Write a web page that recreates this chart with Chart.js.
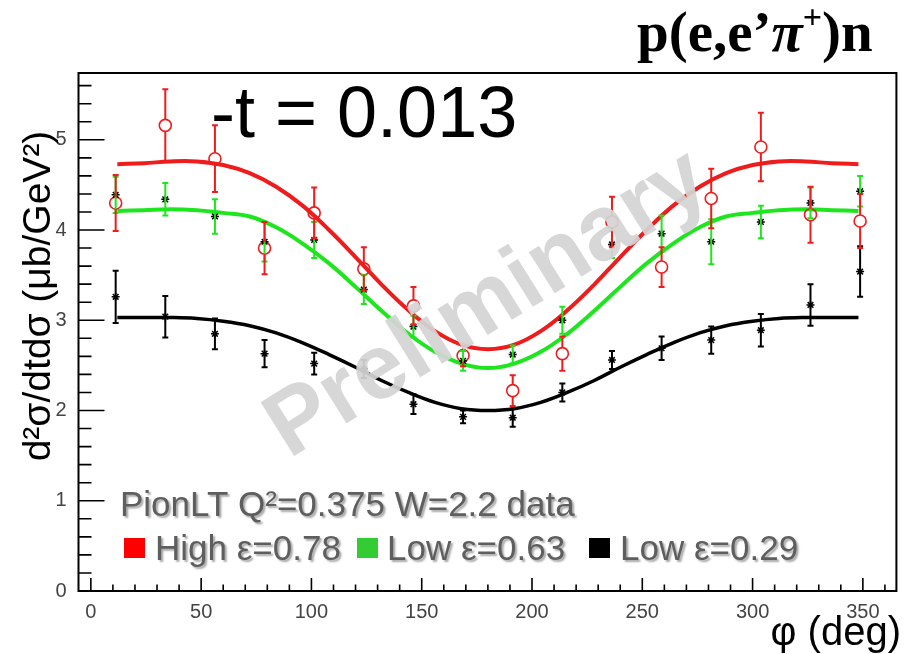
<!DOCTYPE html>
<html>
<head>
<meta charset="utf-8">
<script src="https://cdn.jsdelivr.net/npm/chart.js@4.4.1/dist/chart.umd.min.js"></script>
<style>
  html, body { margin: 0; padding: 0; background: #fff; }
  #wrap { width: 904px; height: 654px; }
</style>
</head>
<body>
<div id="wrap"><canvas id="chart" width="904" height="654"></canvas></div>
<script>
"use strict";

// phi bin centres (deg)
const phiBins = [11.25, 33.75, 56.25, 78.75, 101.25, 123.75, 146.25, 168.75,
  191.25, 213.75, 236.25, 258.75, 281.25, 303.75, 326.25, 348.75];

// High eps = 0.78 (red circles)
const highVals = [4.30, 5.16, 4.79, 3.80, 4.19, 3.57, 3.16, 2.61, 2.22, 2.63, 4.09, 3.59, 4.35, 4.92, 4.17, 4.10];
const highErrs = [0.31, 0.40, 0.37, 0.29, 0.28, 0.24, 0.21, 0.12, 0.17, 0.19, 0.28, 0.22, 0.33, 0.38, 0.31, 0.30];

// Low eps = 0.63 (green)
const midVals = [4.39, 4.34, 4.15, 3.87, 3.89, 3.34, 2.93, 2.55, 2.62, 3.00, 3.84, 3.96, 3.87, 4.09, 4.30, 4.43];
const midErrs = [0.20, 0.18, 0.19, 0.22, 0.20, 0.16, 0.12, 0.11, 0.10, 0.15, 0.15, 0.20, 0.25, 0.18, 0.17, 0.17];

// Low eps = 0.29 (black)
const lowVals = [3.26, 3.04, 2.85, 2.63, 2.52, 2.46, 2.07, 1.93, 1.92, 2.20, 2.56, 2.69, 2.78, 2.89, 3.17, 3.54];
const lowErrs = [0.29, 0.23, 0.17, 0.15, 0.12, 0.10, 0.11, 0.07, 0.10, 0.10, 0.10, 0.13, 0.15, 0.18, 0.23, 0.28];

// fit curves
const fitPhi = [12, 24, 36, 48, 60, 72, 84, 96, 108, 120, 132, 144, 156, 168, 180,
  192, 204, 216, 228, 240, 252, 264, 276, 288, 300, 312, 324, 336, 348];
const highFit = [4.73, 4.74, 4.76, 4.76, 4.72, 4.63, 4.48, 4.27, 4.00, 3.70, 3.39, 3.11, 2.88, 2.73, 2.68,
  2.73, 2.88, 3.11, 3.39, 3.70, 4.00, 4.27, 4.48, 4.63, 4.72, 4.76, 4.76, 4.74, 4.73];
const midFit = [4.21, 4.22, 4.23, 4.22, 4.19, 4.15, 4.03, 3.85, 3.63, 3.37, 3.10, 2.85, 2.65, 2.52, 2.47,
  2.52, 2.65, 2.85, 3.10, 3.37, 3.63, 3.85, 4.03, 4.15, 4.19, 4.22, 4.23, 4.22, 4.21];
const lowFit = [3.03, 3.03, 3.03, 3.02, 2.99, 2.94, 2.86, 2.75, 2.62, 2.48, 2.33, 2.20, 2.09, 2.02, 2.00,
  2.02, 2.09, 2.20, 2.33, 2.48, 2.62, 2.75, 2.86, 2.94, 2.99, 3.02, 3.03, 3.03, 3.03];

// axis ticks
const xTicks = [0, 50, 100, 150, 200, 250, 300, 350];
const yTicks = [0, 1, 2, 3, 4, 5];
const xMinorStep = 10;
const yMinorStep = 0.2;

const RED = "#ee1c1c";
const GREEN = "#1ee61e";
const BLACK = "#000000";
const SANS = "'Liberation Sans', Arial, sans-serif";

const toPoints = (xs, ys) => xs.map((x, i) => ({ x: x, y: ys[i] }));

const drawErrorBars = (chart, vals, errs, color, gap) => {
  const ctx = chart.ctx;
  const xs = chart.scales.x;
  const ys = chart.scales.y;
  ctx.save();
  ctx.strokeStyle = color;
  ctx.lineWidth = 2;
  phiBins.forEach((phi, i) => {
    const px = xs.getPixelForValue(phi);
    const py = ys.getPixelForValue(vals[i]);
    const top = ys.getPixelForValue(vals[i] + errs[i]);
    const bot = ys.getPixelForValue(vals[i] - errs[i]);
    ctx.beginPath();
    ctx.moveTo(px, top);
    ctx.lineTo(px, py - gap);
    ctx.moveTo(px, py + gap);
    ctx.lineTo(px, bot);
    ctx.moveTo(px - 3, top);
    ctx.lineTo(px + 3, top);
    ctx.moveTo(px - 3, bot);
    ctx.lineTo(px + 3, bot);
    ctx.stroke();
  });
  ctx.restore();
};

const rootPlugin = {
  id: "rootStyle",
  beforeDraw(chart) {
    const ctx = chart.ctx;
    ctx.save();
    ctx.fillStyle = "#fff";
    ctx.fillRect(0, 0, chart.width, chart.height);
    ctx.restore();
  },
  afterDatasetsDraw(chart) {
    drawErrorBars(chart, lowVals, lowErrs, BLACK, 0);
    drawErrorBars(chart, midVals, midErrs, GREEN, 0);
    drawErrorBars(chart, highVals, highErrs, RED, 6);

    // watermark
    const ctx = chart.ctx;
    ctx.save();
    ctx.translate(488, 305);
    ctx.rotate(-32 * Math.PI / 180);
    ctx.font = "bold 92px " + SANS;
    ctx.fillStyle = "rgba(212,212,212,0.93)";
    ctx.textAlign = "center";
    ctx.textBaseline = "middle";
    ctx.fillText("Preliminary", 0, 0);
    ctx.restore();
  },
  afterDraw(chart) {
    const ctx = chart.ctx;
    const a = chart.chartArea;
    const xs = chart.scales.x;
    const ys = chart.scales.y;

    // frame
    ctx.save();
    ctx.strokeStyle = "#000";
    ctx.lineWidth = 2;
    ctx.strokeRect(a.left, a.top, a.right - a.left, a.bottom - a.top);

    // inward ticks
    ctx.lineWidth = 1.6;
    ctx.beginPath();
    for (let v = 0; v <= 360.001; v += xMinorStep) {
      const px = xs.getPixelForValue(v);
      const len = xTicks.includes(Math.round(v)) ? 13 : 6.5;
      ctx.moveTo(px, a.bottom);
      ctx.lineTo(px, a.bottom - len);
    }
    for (let v = 0; v <= 5.7; v += yMinorStep) {
      const py = ys.getPixelForValue(v);
      const major = Math.abs(v - Math.round(v)) < 0.01;
      ctx.moveTo(a.left, py);
      ctx.lineTo(a.left + (major ? 26 : 13), py);
    }
    ctx.stroke();
    ctx.restore();

    // texts
    ctx.save();
    ctx.fillStyle = "#000";
    ctx.textBaseline = "alphabetic";

    ctx.font = "72px " + SANS;
    ctx.fillText("-t = 0.013", 211, 137);

    // axis titles
    ctx.font = "40px " + SANS;
    ctx.textAlign = "right";
    ctx.fillText("φ (deg)", 901, 645);

    ctx.save();
    ctx.translate(50, 296);
    ctx.rotate(-Math.PI / 2);
    ctx.textAlign = "center";
    ctx.font = "39px " + SANS;
    ctx.fillText("d²σ/dtdσ (μb/GeV²)", 0, 0);
    ctx.restore();

    // reaction label
    ctx.textAlign = "left";
    const serif = "'Liberation Serif', 'Times New Roman', serif";
    let x = 637;
    const base = 51;
    ctx.font = "bold 57px " + serif;
    ctx.fillText("p(e,e’", x, base);
    x += ctx.measureText("p(e,e’").width;
    ctx.font = "italic bold 57px " + serif;
    ctx.fillText("π", x, base);
    x += ctx.measureText("π").width;
    ctx.font = "bold 34px " + serif;
    ctx.fillText("+", x, base - 23);
    x += ctx.measureText("+").width;
    ctx.font = "bold 57px " + serif;
    ctx.fillText(")n", x, base);

    // in-plot legend
    ctx.shadowColor = "rgba(0,0,0,0.35)";
    ctx.shadowOffsetX = 2;
    ctx.shadowOffsetY = 2;
    ctx.shadowBlur = 2;
    ctx.fillStyle = "#5e5e5e";
    ctx.font = "35px " + SANS;
    ctx.fillText("PionLT Q²=0.375 W=2.2 data", 120, 516);

    const items = [
      { color: "#ff0000", label: "High ε=0.78", box: 124, text: 155 },
      { color: "#33cc33", label: "Low ε=0.63", box: 357, text: 387 },
      { color: "#000000", label: "Low ε=0.29", box: 589, text: 620 }
    ];
    items.forEach((it) => {
      ctx.shadowColor = "rgba(0,0,0,0)";
      ctx.fillStyle = it.color;
      ctx.fillRect(it.box, 538, 21, 20);
      ctx.shadowColor = "rgba(0,0,0,0.35)";
      ctx.fillStyle = "#5e5e5e";
      ctx.fillText(it.label, it.text, 560);
    });
    ctx.restore();
  }
};

const fitLine = (data, color, width) => ({
  type: "line",
  data: toPoints(fitPhi, data),
  borderColor: color,
  borderWidth: width,
  pointRadius: 0,
  tension: 0.4,
  fill: false,
  order: 3
});

new Chart(document.getElementById("chart"), {
  type: "scatter",
  data: {
    datasets: [
      fitLine(lowFit, BLACK, 3.5),
      fitLine(midFit, GREEN, 4),
      fitLine(highFit, RED, 4),
      {
        label: "Low ε=0.29",
        data: toPoints(phiBins, lowVals),
        pointStyle: "star",
        pointRadius: 4,
        borderColor: BLACK,
        borderWidth: 1.5,
        order: 1
      },
      {
        label: "Low ε=0.63",
        data: toPoints(phiBins, midVals),
        pointStyle: "star",
        pointRadius: 4,
        borderColor: BLACK,
        borderWidth: 1.5,
        order: 1
      },
      {
        label: "High ε=0.78",
        data: toPoints(phiBins, highVals),
        pointStyle: "circle",
        pointRadius: 6,
        backgroundColor: "rgba(0,0,0,0)",
        borderColor: RED,
        borderWidth: 1.6,
        order: 1
      }
    ]
  },
  options: {
    responsive: false,
    animation: false,
    layout: { padding: { top: 73, right: 7, left: 0, bottom: 0 } },
    plugins: {
      legend: { display: false },
      tooltip: { enabled: false }
    },
    scales: {
      x: {
        type: "linear",
        min: -5.6,
        max: 365.2,
        grid: { display: false },
        border: { display: false },
        afterBuildTicks: (scale) => {
          scale.ticks = xTicks.map((v) => ({ value: v }));
        },
        afterFit: (scale) => {
          scale.height = 63;
        },
        ticks: {
          padding: 1,
          maxRotation: 0,
          color: "#444",
          font: { family: SANS, size: 20 }
        }
      },
      y: {
        type: "linear",
        min: 0,
        max: 5.74,
        grid: { display: false },
        border: { display: false },
        afterBuildTicks: (scale) => {
          scale.ticks = yTicks.map((v) => ({ value: v }));
        },
        afterFit: (scale) => {
          scale.width = 78.5;
        },
        ticks: {
          padding: 4,
          color: "#444",
          font: { family: SANS, size: 20 }
        }
      }
    }
  },
  plugins: [rootPlugin]
});
</script>
</body>
</html>
